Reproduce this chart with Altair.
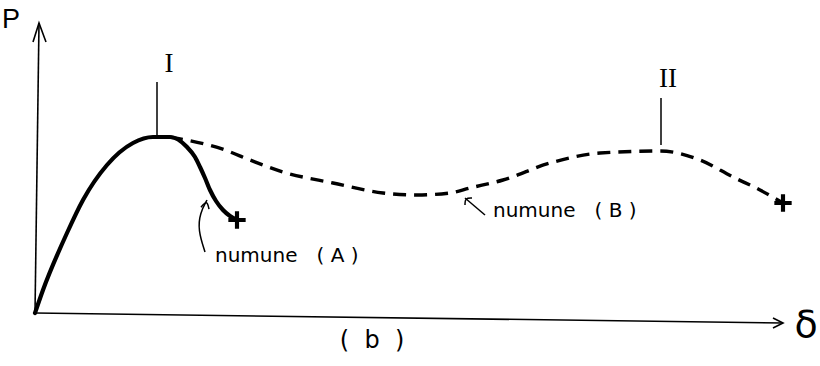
import altair as alt
import pandas as pd

# Scale domains (delta on x, load P on y)
X_DOM = [-3.5, 78.5]
Y_DOM = [-26.5, 156.5]

# Specimen (A): rises to peak I, then drops quickly to failure
a_delta = [0.0, 0.8, 3.2, 4.8, 7.2, 9.8, 11.8, 13.5, 15.2, 16.0, 16.5, 17.0, 17.5, 18.1, 18.8, 19.5, 20.2]
a_p = [0.0, 11.5, 40.0, 56.5, 74.0, 85.0, 88.0, 88.0, 83.0, 78.0, 73.0, 67.5, 61.5, 56.0, 51.5, 48.5, 46.5]

# Specimen (B): after peak I it softens, regains strength up to peak II, then fails
b_delta = [13.5, 19.0, 21.5, 24.8, 29.8, 34.8, 38.2, 41.5, 43.5, 46.8, 51.5, 56.5, 62.5, 66.5, 69.8, 72.5, 74.8]
b_p = [88.0, 81.5, 76.5, 70.5, 65.0, 60.0, 59.0, 60.0, 62.5, 66.5, 75.0, 80.0, 81.0, 76.5, 68.0, 61.5, 55.0]

# Failure points
fail_delta = [20.2, 74.8]
fail_p = [46.5, 55.0]

# Axis arrows: shaft and head polylines
axis_seg = ["y", "y", "yh", "yh", "yh", "x", "x", "xh", "xh", "xh"]
axis_delta = [0.0, 0.4, -0.2, 0.4, 1.1, 0.0, 74.8, 73.8, 74.8, 73.8]
axis_p = [0.0, 145.0, 135.5, 145.0, 135.5, 0.0, -5.0, -2.5, -5.0, -7.5]

# Pointer arrows for the specimen labels
ptr_seg = ["a", "a", "a", "a", "ah", "ah", "ah", "b", "b", "bh", "bh", "bh"]
ptr_delta = [17.0, 16.3, 16.5, 17.2, 16.6, 17.2, 17.4, 45.0, 43.0, 43.0, 43.0, 43.7]
ptr_p = [30.5, 41.5, 50.0, 56.5, 52.9, 56.5, 51.9, 49.0, 57.5, 54.0, 57.5, 57.5]

# Peak markers I and II
peak_names = ["I", "II"]
peak_delta = [12.2, 62.6]
peak_top = [115.5, 107.5]
peak_bottom = [89.0, 84.0]
peak_label_delta = [13.4, 63.3]
peak_label_p = [124.5, 117.0]

# Text annotations (non-breaking spaces keep the wide gaps)
NB = "\u00a0"
spec_text = [f"numune{NB * 3}({NB}A{NB})", f"numune{NB * 3}({NB}B{NB})"]
spec_delta = [18.0, 45.8]
spec_p = [25.5, 48.0]

# Slim plus sign used to mark failure
PLUS = "M-1,-0.24H1V0.24H-1Z M-0.24,-1H0.24V1H-0.24Z"


def sx(field):
    return alt.X(f"{field}:Q", scale=alt.Scale(domain=X_DOM, nice=False, zero=False), axis=None)


def sy(field):
    return alt.Y(f"{field}:Q", scale=alt.Scale(domain=Y_DOM, nice=False, zero=False), axis=None)


df_a = pd.DataFrame({"d": a_delta, "p": a_p})
df_b = pd.DataFrame({"d": b_delta, "p": b_p})
df_fail = pd.DataFrame({"d": fail_delta, "p": fail_p})
df_axis = pd.DataFrame({"d": axis_delta, "p": axis_p, "seg": axis_seg,
                        "o": list(range(len(axis_seg)))})
df_ptr = pd.DataFrame({"d": ptr_delta, "p": ptr_p, "seg": ptr_seg,
                       "o": list(range(len(ptr_seg)))})
df_peak = pd.DataFrame({"name": peak_names, "d": peak_delta, "p1": peak_top, "p2": peak_bottom,
                        "ld": peak_label_delta, "lp": peak_label_p})
df_spec = pd.DataFrame({"t": spec_text, "d": spec_delta, "p": spec_p})
df_p = pd.DataFrame({"t": ["P"], "d": [-2.4], "p": [146.5]})
df_delta = pd.DataFrame({"t": ["δ"], "d": [77.1], "p": [-6.5]})
df_b_lbl = pd.DataFrame({"t": [f"({NB * 2}b{NB * 2})"], "d": [33.7], "p": [-14.0]})

axes = alt.Chart(df_axis).mark_line(color="black", strokeWidth=1.6).encode(
    x=sx("d"), y=sy("p"), detail="seg:N", order="o:Q")

curve_a = alt.Chart(df_a).mark_line(color="black", strokeWidth=4.2, interpolate="monotone",
                                    strokeCap="round").encode(x=sx("d"), y=sy("p"))

curve_b = alt.Chart(df_b).mark_line(color="black", strokeWidth=3.4, interpolate="monotone",
                                    strokeDash=[13, 8]).encode(x=sx("d"), y=sy("p"))

fails = alt.Chart(df_fail).mark_point(shape=PLUS, filled=True, size=300, color="black",
                                      opacity=1).encode(x=sx("d"), y=sy("p"))

pointers = alt.Chart(df_ptr).mark_line(color="black", strokeWidth=1.5, interpolate="basis").encode(
    x=sx("d"), y=sy("p"), detail="seg:N", order="o:Q")

peak_ticks = alt.Chart(df_peak).mark_rule(color="black", strokeWidth=1.5).encode(
    x=sx("d"), y=sy("p1"), y2=alt.Y2("p2:Q"))

peak_labels = alt.Chart(df_peak).mark_text(font="Liberation Serif", fontSize=27,
                                           color="black", align="center",
                                           baseline="middle").encode(
    x=sx("ld"), y=sy("lp"), text="name:N")

spec_labels = alt.Chart(df_spec).mark_text(font="DejaVu Sans", fontSize=20, color="black",
                                           align="left", baseline="alphabetic").encode(
    x=sx("d"), y=sy("p"), text="t:N")

p_label = alt.Chart(df_p).mark_text(font="Liberation Sans", fontSize=27, color="black",
                                    align="center", baseline="middle").encode(
    x=sx("d"), y=sy("p"), text="t:N")

delta_label = alt.Chart(df_delta).mark_text(font="DejaVu Sans", fontSize=38, color="black",
                                            align="center", baseline="middle").encode(
    x=sx("d"), y=sy("p"), text="t:N")

b_label = alt.Chart(df_b_lbl).mark_text(font="DejaVu Sans", fontSize=24, color="black",
                                        align="center", baseline="middle").encode(
    x=sx("d"), y=sy("p"), text="t:N")

chart = alt.layer(
    axes, curve_b, curve_a, fails, pointers, peak_ticks, peak_labels,
    spec_labels, p_label, delta_label, b_label
).properties(
    width=820, height=366, autosize=alt.AutoSizeParams(type="none"), padding=0,
    background="white"
).configure_view(stroke=None)

chart.save("out.html", embed_options={"renderer": "svg", "actions": False})
